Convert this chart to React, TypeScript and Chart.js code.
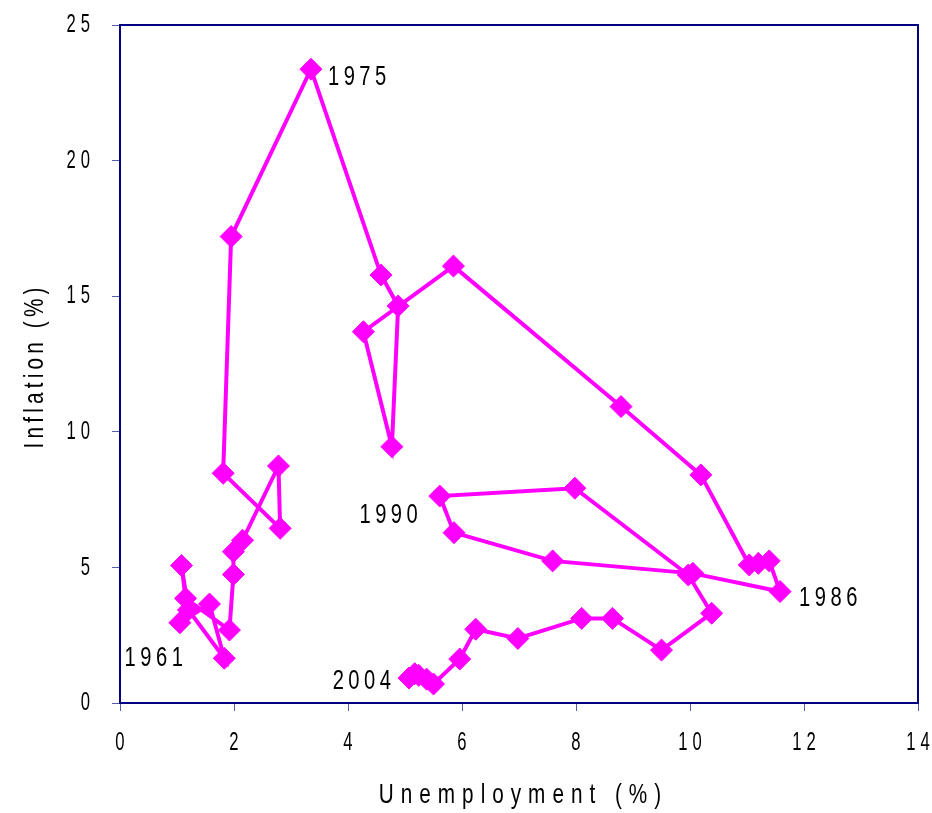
import React, { useEffect, useRef } from "react";
import { Chart, registerables } from "chart.js";

Chart.register(...registerables);

const years = [
  1961, 1962, 1963, 1964, 1965, 1966, 1967, 1968, 1969, 1970,
  1971, 1972, 1973, 1974, 1975, 1976, 1977, 1978, 1979, 1980,
  1981, 1982, 1983, 1984, 1985, 1986, 1987, 1988, 1989, 1990,
  1991, 1992, 1993, 1994, 1995, 1996, 1997, 1998, 1999, 2000,
  2001, 2002, 2003, 2004,
];

const unemployment = [
  1.05, 1.57, 1.83, 1.2, 1.08, 1.15, 1.92, 1.99, 1.99, 2.15,
  2.78, 2.81, 1.81, 1.95, 3.35, 4.58, 4.88, 4.77, 4.27, 5.85,
  8.79, 10.19, 11.04, 11.2, 11.39, 11.58, 10.05, 7.59, 5.86, 5.61,
  7.98, 9.97, 10.38, 9.5, 8.64, 8.1, 6.98, 6.24, 5.96, 5.5,
  5.38, 5.24, 5.17, 5.07,
];

const inflation = [
  2.96, 3.65, 1.65, 3.43, 5.07, 3.86, 2.69, 4.74, 5.58, 6.0,
  8.74, 6.44, 8.47, 17.2, 23.37, 15.78, 14.64, 9.45, 13.69, 16.11,
  10.93, 8.41, 5.09, 5.15, 5.24, 4.11, 4.78, 5.24, 6.28, 7.63,
  7.92, 4.72, 3.31, 1.95, 3.12, 3.12, 2.38, 2.72, 1.62, 0.7,
  0.88, 1.02, 1.08, 0.92,
];

const labeledYears = [1961, 1975, 1986, 1990, 2004];

const xTitle = "Unemployment (%)";
const yTitle = "Inflation (%)";

const FONT = "'Liberation Sans', Arial, sans-serif";

const labelPlacement: Record<number, { dx: number; dy: number; align: "left" | "right" }> = {
  1961: { dx: 3, dy: 36, align: "right" },
  1975: { dx: 17, dy: 8, align: "left" },
  1986: { dx: 19, dy: 7, align: "left" },
  1990: { dx: -22, dy: 19, align: "right" },
  2004: { dx: -18, dy: 3, align: "right" },
};

type TextStyle = { size: number; sx: number; spacing: number };

const tickStyle: TextStyle = { size: 26, sx: 0.64, spacing: 5 };
const labelStyle: TextStyle = { size: 28, sx: 0.72, spacing: 4.5 };
const xTitleStyle: TextStyle = { size: 28, sx: 0.74, spacing: 7 };
const yTitleStyle: TextStyle = { size: 28, sx: 0.74, spacing: 4.2 };

function drawSpaced(
  ctx: CanvasRenderingContext2D,
  text: string,
  x: number,
  y: number,
  align: "left" | "right" | "center",
  st: TextStyle
) {
  ctx.save();
  ctx.font = `${st.size}px ${FONT}`;
  ctx.textAlign = "left";
  ctx.textBaseline = "middle";
  const chars = Array.from(text);
  const widths = chars.map((c) => ctx.measureText(c).width * st.sx);
  const total = widths.reduce((a, b) => a + b, 0) + st.spacing * (chars.length - 1);
  let cx = align === "left" ? x : align === "right" ? x - total : x - total / 2;
  chars.forEach((c, i) => {
    ctx.save();
    ctx.translate(cx, y);
    ctx.scale(st.sx, 1);
    ctx.fillText(c, 0, 0);
    ctx.restore();
    cx += widths[i] + st.spacing;
  });
  ctx.restore();
}

const decorPlugin = {
  id: "decor",
  beforeDatasetsDraw(chart: any) {
    const { ctx, chartArea: a } = chart;
    ctx.save();
    ctx.strokeStyle = "#000080";
    ctx.lineWidth = 2;
    ctx.strokeRect(a.left, a.top, a.right - a.left, a.bottom - a.top);
    ctx.restore();
  },
  afterDraw(chart: any) {
    const { ctx, chartArea: a } = chart;
    const xs = chart.scales.x;
    const ys = chart.scales.y;
    ctx.save();
    ctx.fillStyle = "#000000";
    // tick labels
    xs.ticks.forEach((t: any) => {
      drawSpaced(ctx, String(t.value), xs.getPixelForValue(t.value), a.bottom + 40, "center", tickStyle);
    });
    ys.ticks.forEach((t: any) => {
      drawSpaced(ctx, String(t.value), a.left - 30, ys.getPixelForValue(t.value), "right", tickStyle);
    });
    // point labels
    const meta = chart.getDatasetMeta(0);
    labeledYears.forEach((yr) => {
      const i = years.indexOf(yr);
      const p = meta.data[i];
      const pl = labelPlacement[yr];
      if (!p || !pl) return;
      drawSpaced(ctx, String(yr), p.x + pl.dx, p.y + pl.dy, pl.align, labelStyle);
    });
    // axis titles
    drawSpaced(ctx, xTitle, (a.left + a.right) / 2 + 1, a.bottom + 92, "center", xTitleStyle);
    ctx.save();
    ctx.translate(27, (a.top + a.bottom) / 2 + 4);
    ctx.rotate(-Math.PI / 2);
    drawSpaced(ctx, yTitle, 0, 0, "center", yTitleStyle);
    ctx.restore();
    ctx.restore();
  },
};

export default function App() {
  const ref = useRef<HTMLCanvasElement | null>(null);

  useEffect(() => {
    if (!ref.current) return;
    const points = years.map((_, i) => ({ x: unemployment[i], y: inflation[i] }));
    const tickColor = "#5a5aa0";
    const chart = new Chart(ref.current, {
      type: "scatter",
      data: {
        datasets: [
          {
            label: "Phillips curve",
            data: points,
            showLine: true,
            borderColor: "#ff00ff",
            backgroundColor: "#ff00ff",
            borderWidth: 4,
            pointStyle: "rectRot",
            pointRadius: 11,
            pointBorderWidth: 1,
            pointBorderColor: "#ff00ff",
            pointBackgroundColor: "#ff00ff",
            tension: 0,
          },
        ],
      },
      options: {
        responsive: false,
        animation: false,
        devicePixelRatio: 1,
        layout: { padding: { left: 0, right: 14, top: 17, bottom: 8 } },
        plugins: {
          legend: { display: false },
          tooltip: { enabled: false },
          title: { display: false },
        },
        scales: {
          x: {
            type: "linear",
            min: 0,
            max: 14,
            ticks: { stepSize: 2, display: false },
            grid: {
              display: true,
              drawOnChartArea: false,
              drawTicks: true,
              tickLength: 8,
              color: tickColor,
              lineWidth: 1,
            },
            border: { display: true, color: "#000080", width: 2 },
            afterFit(scale: any) {
              scale.height = 102;
              scale.paddingLeft = 0;
              scale.paddingRight = 0;
            },
          },
          y: {
            type: "linear",
            min: 0,
            max: 25,
            ticks: { stepSize: 5, display: false },
            grid: {
              display: true,
              drawOnChartArea: false,
              drawTicks: true,
              tickLength: 8,
              color: tickColor,
              lineWidth: 1,
            },
            border: { display: true, color: "#000080", width: 2 },
            afterFit(scale: any) {
              scale.width = 112;
              scale.paddingTop = 0;
              scale.paddingBottom = 0;
            },
          },
        },
      },
      plugins: [decorPlugin],
    });
    return () => chart.destroy();
  }, []);

  return (
    <div style={{ position: "fixed", left: 8, top: 8, width: 924, height: 805 }}>
      <canvas ref={ref} width={924} height={805} style={{ display: "block" }} />
    </div>
  );
}
